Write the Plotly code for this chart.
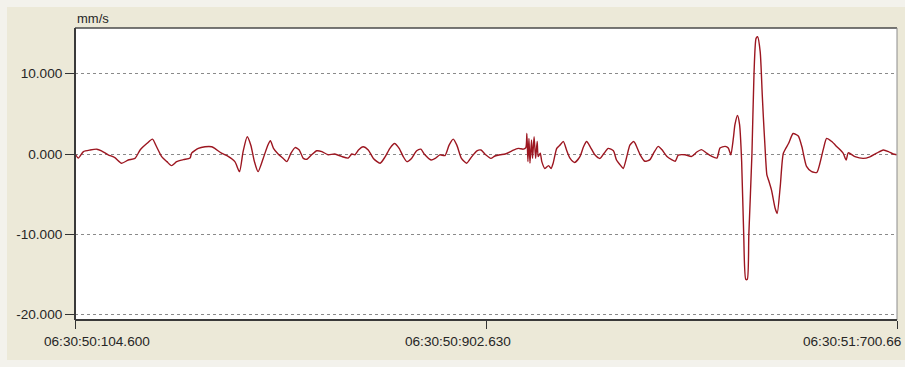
import plotly.graph_objects as go

# Velocity trace, time offset in ms after 06:30:50, velocity in mm/s
time_ms = [
    105, 111, 121, 134, 147, 156, 169, 182, 195, 208, 221, 231, 244, 255, 263, 273, 283, 292, 302, 315,
    328, 331, 344, 357, 370, 376, 389, 402, 415, 424, 431, 439, 446, 453, 460, 470, 479, 484, 490, 499,
    509, 516, 524, 532, 540, 548, 555, 564, 574, 584, 596, 609, 622, 635, 642, 648, 655, 664, 674, 684,
    697, 707, 716, 725, 734, 742, 749, 758, 768, 776, 784, 796, 804, 813, 823, 831, 839, 846, 855, 865,
    875, 885, 893, 902, 912, 920, 930, 940, 953, 965, 975, 980, 982, 984, 986, 988, 991, 993, 996, 999,
    1002, 1004, 1008, 1011, 1017, 1024, 1029, 1033, 1040, 1046, 1053, 1059, 1066, 1075, 1085, 1092, 1098,
    1105, 1114, 1124, 1132, 1140, 1150, 1156, 1163, 1169, 1176, 1182, 1189, 1192, 1202, 1211, 1221, 1228,
    1237, 1244, 1254, 1263, 1270, 1276, 1289, 1302, 1312, 1321, 1331, 1341, 1351, 1357, 1367, 1373, 1378,
    1383, 1386, 1391, 1395, 1399, 1403, 1407, 1410, 1413, 1419, 1423, 1427, 1430, 1435, 1439, 1441, 1444,
    1448, 1451, 1457, 1464, 1468, 1474, 1480, 1490, 1499, 1509, 1516, 1525, 1535, 1545, 1551, 1558, 1564,
    1574, 1584, 1596, 1602, 1606, 1619, 1635, 1648, 1661, 1674, 1684, 1693, 1700,
]
velocity = [
    0.0, -0.5, 0.3, 0.5, 0.6, 0.4, -0.1, -0.45, -1.15, -0.75, -0.55, 0.5, 1.3, 1.85, 0.9, -0.33, -0.95, -1.45, -0.95, -0.7,
    -0.5, 0.1, 0.7, 0.9, 0.9, 0.7, 0.1, -0.3, -0.95, -2.2, 0.3, 2.15, 1.1, -0.95, -2.2, -0.55, 1.1, 1.65, 0.7, 0.0,
    -0.55, -0.95, 0.1, 0.8, 0.5, -0.55, -0.65, -0.1, 0.4, 0.3, -0.1, 0.0, -0.3, -0.5, 0.0, -0.1, 0.5, 0.9, 0.5, -0.55,
    -1.15, -0.33, 0.7, 1.3, 0.7, -0.33, -0.95, -0.55, 0.4, 0.6, -0.1, -0.75, -0.55, -0.1, -0.2, 1.1, 1.85, 1.1, -0.55, -1.15,
    -0.33, 0.4, 0.5, -0.1, -0.55, -0.25, -0.1, 0.0, 0.4, 0.7, 0.6, 0.8, 2.55, -0.95, 1.95, -1.15, 1.75, -0.55, 2.15, -0.55,
    1.55, -0.33, 0.1, -0.95, -1.8, -1.45, -1.8, -1.15, 0.7, 1.1, 1.55, 0.5, -0.55, -1.05, -0.33, 0.9, 1.55,
    0.9, -0.1, -0.55, 0.1, 0.7, 0.4, -0.75, -1.35, -1.8, -0.33, 1.1, 1.55, 1.35, -0.1, -0.9, -0.7, 0.1,
    0.95, 0.55, -0.3, -0.7, -0.9, -0.15, -0.1, -0.3, 0.25, 0.55, 0.1, -0.3, -0.5, 0.75, 0.95, 0.75, -0.1,
    2.0, 3.65, 4.8, 3.65, -0.9, -10.0, -15.6, -15.6, -10.0, 0.0, 10.0, 14.4, 14.6, 12.75, 7.4, 4.8, 1.3,
    -2.6, -3.2, -4.5, -6.75, -7.4, -4.0, 0.1, 1.3, 2.55, 2.25, 0.9, -1.55, -2.2, -2.3, -1.15, 0.7, 1.95,
    1.55, 0.9, 0.1, -0.75, 0.15, -0.33, -0.55, -0.35, 0.1, 0.5, 0.3, 0.0, -0.1,
]

x_tick_vals = [104.6, 902.63, 1700.66]
x_tick_text = ["06:30:50:104.600", "06:30:50:902.630", "06:30:51:700.66"]
y_tick_vals = [10, 0, -10, -20]
y_tick_text = ["10.000", "0.000", "-10.000", "-20.000"]

W, H = 905, 367
L, R, T, B = 75, 8, 28, 47
FONT = "Liberation Sans, Arial, sans-serif"
BEIGE = "#ECE9D8"
EDGE = "#F3F2EC"
TEXT = "#262626"

fig = go.Figure()
fig.add_trace(go.Scatter(
    x=time_ms, y=velocity, mode="lines",
    line=dict(color="#9C1620", width=1.4, shape="spline", smoothing=0.6),
    hoverinfo="skip", showlegend=False,
))

fig.update_xaxes(
    range=[x_tick_vals[0], x_tick_vals[-1]],
    tickvals=x_tick_vals, ticktext=["", "", ""],
    ticks="outside", ticklen=8, tickcolor="#333333", tickwidth=1,
    showgrid=False, zeroline=False, showline=False,
)
fig.update_yaxes(
    range=[-20.67, 15.69],
    tickvals=y_tick_vals, ticktext=y_tick_text,
    ticks="outside", ticklen=9, tickcolor="#333333", tickwidth=1,
    tickfont=dict(family=FONT, size=13.6, color=TEXT),
    showgrid=True, gridcolor="#8a8a8a", gridwidth=1, griddash="3px,3px",
    zeroline=False, showline=False,
)

# x tick labels placed beside their tick marks
shifts = [(22, "center"), (-28, "center"), (-96, "left")]
annotations = []
for val, txt, (dx, anchor) in zip(x_tick_vals, x_tick_text, shifts):
    annotations.append(dict(
        x=val, xref="x", y=0, yref="paper", yshift=-21, xshift=dx,
        text=txt, showarrow=False, xanchor=anchor, yanchor="middle",
        font=dict(family=FONT, size=13.6, color=TEXT),
    ))
annotations.append(dict(
    x=0, xref="paper", y=1, yref="paper", yshift=0,
    text="mm/s", showarrow=False, xanchor="left", yanchor="bottom",
    font=dict(family=FONT, size=13, color=TEXT),
))

PW, PH = W - L - R, H - T - B
shapes = [
    # lighter outer margin strips around the panel
    dict(type="rect", xref="paper", yref="paper", x0=-L / PW, x1=1 + R / PW,
         y0=1 + (T - 7) / PH, y1=1 + T / PH, fillcolor=EDGE, line_width=0, layer="below"),
    dict(type="rect", xref="paper", yref="paper", x0=-L / PW, x1=-(L - 7) / PW,
         y0=-B / PH, y1=1 + T / PH, fillcolor=EDGE, line_width=0, layer="below"),
    dict(type="rect", xref="paper", yref="paper", x0=-L / PW, x1=1 + R / PW,
         y0=-B / PH, y1=-(B - 7) / PH, fillcolor=EDGE, line_width=0, layer="below"),
    # plot frame
    dict(type="line", xref="paper", yref="paper", x0=0, x1=1, y0=1, y1=1,
         line=dict(color="#4a4a4a", width=1.5)),
    dict(type="line", xref="paper", yref="paper", x0=1, x1=1, y0=0, y1=1,
         line=dict(color="#8c8c8c", width=1)),
    dict(type="line", xref="paper", yref="paper", x0=0, x1=0, y0=0, y1=1,
         line=dict(color="#3a3a3a", width=2)),
    dict(type="line", xref="paper", yref="paper", x0=0, x1=1, y0=0, y1=0,
         line=dict(color="#3a3a3a", width=2)),
]

fig.update_layout(
    width=W, height=H,
    margin=dict(l=L, r=R, t=T, b=B, pad=0),
    paper_bgcolor=BEIGE, plot_bgcolor="white",
    annotations=annotations, shapes=shapes,
    showlegend=False,
)

fig.write_html("out.html", config={"displayModeBar": False})
